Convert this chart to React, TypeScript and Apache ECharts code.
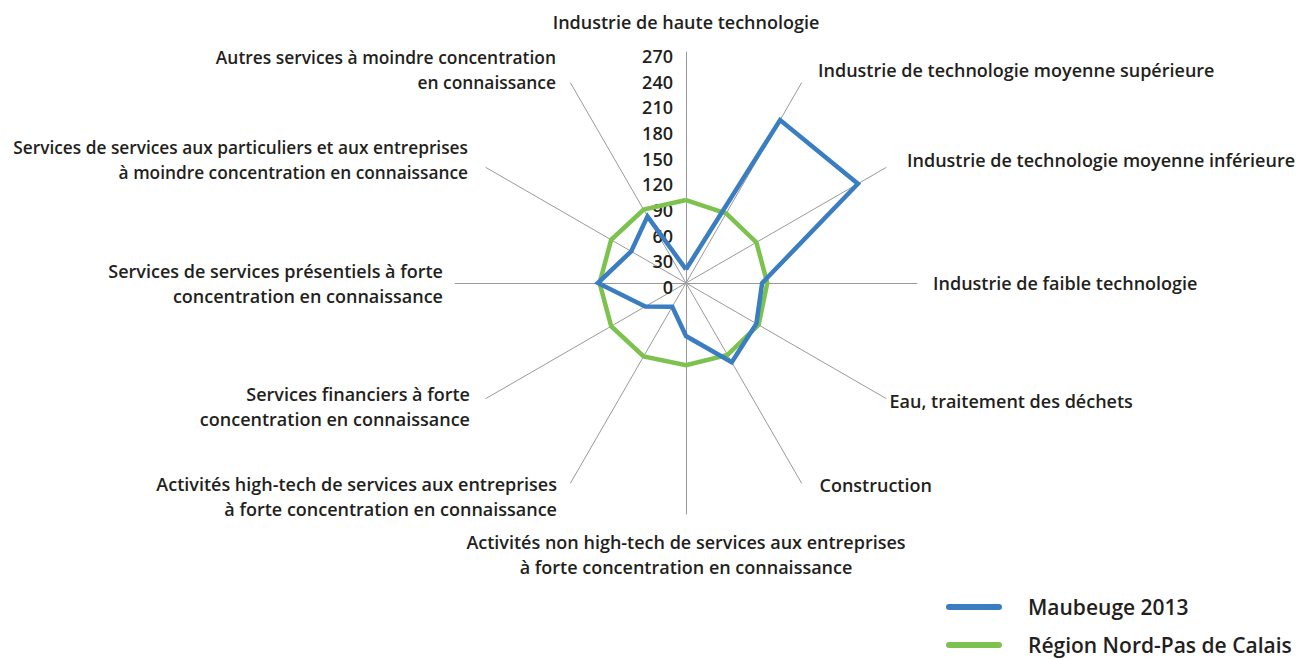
import React, { useEffect, useRef } from "react";
import * as echarts from "echarts";

const indicatorNames: string[] = [
  "Industrie de haute technologie",
  "Industrie de technologie moyenne supérieure",
  "Industrie de technologie moyenne inférieure",
  "Industrie de faible technologie",
  "Eau, traitement des déchets",
  "Construction",
  "Activités non high-tech de services aux entreprises\nà forte concentration en connaissance",
  "Activités high-tech de services aux entreprises\nà forte concentration en connaissance",
  "Services financiers à forte\nconcentration en connaissance",
  "Services de services présentiels à forte\nconcentration en connaissance",
  "Services de services aux particuliers et aux entreprises\nà moindre concentration en connaissance",
  "Autres services à moindre concentration\nen connaissance",
];

const maubeuge2013: number[] = [16, 220, 232, 89, 95, 107, 62, 32, 55, 103, 74, 90];
const regionNPDC: number[] = [97, 94, 95, 95, 98, 97, 96, 99, 101, 101, 101, 99];

const seriesNames: string[] = ["Maubeuge 2013", "Région Nord-Pas de Calais"];
const axisMin = 0;
const axisMax = 270;
const axisInterval = 30;

// label layout (per indicator, same order as indicatorNames): gap from axis end, text padding, size
const nameGaps: number[] = [18, 15, 15, 16, 4, 2, 15, 15, 15, 12, 15, 15];
const namePaddings: number[][] = [
  [0, 0, 0, 0],
  [0, 0, 0, 9],
  [0, 0, 2, 8],
  [0, 0, 0, 0],
  [0, 0, 0, 0],
  [0, 0, 0, 17],
  [0, 0, 0, 0],
  [4, 6, 0, 0],
  [0, 3, 2, 0],
  [0, 0, 0, 0],
  [4, 5, 0, 0],
  [10, 7, 0, 0],
];
const nameSizes: number[] = [18, 18, 18, 18, 18, 18, 18, 18, 18, 18, 17.3, 17.4];

const BLUE = "#3a7dc1";
const GREEN = "#7dc24f";
const TEXT = "#231f20";
const FONT = "'Open Sans', sans-serif";
const LABEL_SIZE = 18;

// ECharts radar goes counter-clockwise; reorder so the picture goes clockwise
const order = [0, ...Array.from({ length: indicatorNames.length - 1 }, (_, k) => indicatorNames.length - 1 - k)];
const reorder = (arr: number[]) => order.map((i) => arr[i]);

export default function App() {
  const ref = useRef<HTMLDivElement>(null);
  useEffect(() => {
    if (!ref.current) return;
    const chart = echarts.init(ref.current, undefined, { renderer: "svg" });
    chart.setOption({
      animation: false,
      backgroundColor: "#ffffff",
      textStyle: { fontFamily: FONT },
      grid: { left: 686, top: 56, width: 10, height: 231 },
      xAxis: { type: "value", show: false, min: 0, max: 1 },
      yAxis: {
        type: "value",
        min: axisMin,
        max: axisMax,
        interval: axisInterval,
        axisLine: { show: false },
        axisTick: { show: false },
        splitLine: { show: false },
        axisLabel: {
          margin: 13,
          color: TEXT,
          fontSize: LABEL_SIZE,
          fontWeight: 600,
          fontFamily: FONT,
        },
      },
      radar: {
        center: [686, 283],
        radius: 231,
        startAngle: 90,
        splitNumber: 9,
        shape: "polygon",
        indicator: order.map((i) => ({
          name: indicatorNames[i],
          min: axisMin,
          max: axisMax,
          nameGap: nameGaps[i],
          nameTextStyle: { padding: namePaddings[i], fontSize: nameSizes[i] },
        })),
        axisName: {
          color: TEXT,
          fontSize: LABEL_SIZE,
          fontWeight: 600,
          fontFamily: FONT,
          lineHeight: 25,
        },
        axisNameGap: 15,
        axisLine: { lineStyle: { color: "#9a9a9a", width: 1 } },
        axisTick: { show: false },
        axisLabel: { show: false },
        splitLine: { show: false },
        splitArea: { show: false },
      },
      legend: {
        orient: "vertical",
        left: 941,
        top: 591,
        height: 120,
        itemWidth: 56,
        itemHeight: 6,
        itemGap: 16,
        icon: "path://M3,0 L53,0 A3,3 0 0 1 53,6 L3,6 A3,3 0 0 1 3,0 Z",
        textStyle: {
          color: TEXT,
          fontSize: 21,
          fontWeight: 600,
          fontFamily: FONT,
          lineHeight: 22,
          padding: [0, 0, 0, 21],
        },
        data: seriesNames,
      },
      series: [
        {
          type: "radar",
          name: seriesNames[1],
          color: GREEN,
          symbol: "none",
          lineStyle: { color: GREEN, width: 4.5, join: "miter" },
          itemStyle: { color: GREEN },
          data: [{ name: seriesNames[1], value: reorder(regionNPDC) }],
          z: 2,
        },
        {
          type: "radar",
          name: seriesNames[0],
          color: BLUE,
          symbol: "none",
          lineStyle: { color: BLUE, width: 4.5, join: "miter" },
          itemStyle: { color: BLUE },
          data: [{ name: seriesNames[0], value: reorder(maubeuge2013) }],
          z: 3,
        },
      ],
    });
    return () => chart.dispose();
  }, []);
  return (
    <div
      ref={ref}
      style={{ position: "absolute", left: 0, top: 0, width: 1310, height: 660 }}
    />
  );
}
